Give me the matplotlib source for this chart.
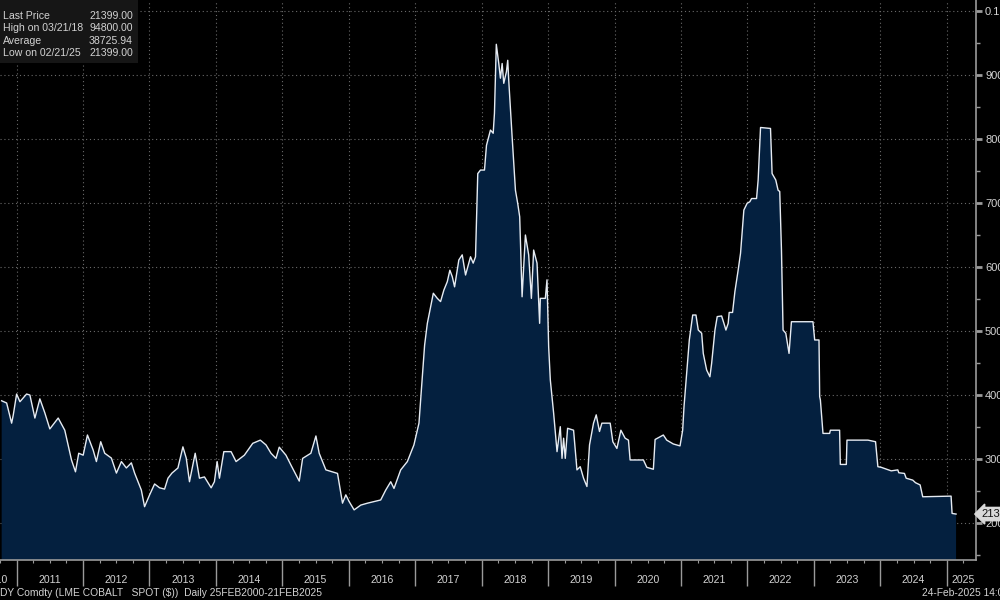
import matplotlib
matplotlib.use("Agg")
import matplotlib.pyplot as plt
import matplotlib.transforms as mtransforms
import numpy as np

# ---- data (decimal year, LME cobalt spot $) ----
years = [
    2010.775, 2010.850, 2010.925, 2010.950, 2011.000, 2011.050, 2011.150, 2011.200, 2011.275, 2011.350,
    2011.425, 2011.500, 2011.626, 2011.725, 2011.826, 2011.886, 2011.935, 2012.002, 2012.066, 2012.152,
    2012.201, 2012.266, 2012.326, 2012.426, 2012.502, 2012.577, 2012.652, 2012.727, 2012.776, 2012.877,
    2012.926, 2013.002, 2013.077, 2013.152, 2013.227, 2013.278, 2013.338, 2013.428, 2013.503, 2013.553,
    2013.602, 2013.688, 2013.752, 2013.827, 2013.928, 2013.977, 2014.018, 2014.053, 2014.119, 2014.228,
    2014.303, 2014.428, 2014.554, 2014.668, 2014.754, 2014.829, 2014.904, 2014.953, 2015.054, 2015.129,
    2015.254, 2015.305, 2015.429, 2015.505, 2015.554, 2015.655, 2015.830, 2015.905, 2015.955, 2016.005,
    2016.080, 2016.180, 2016.281, 2016.480, 2016.556, 2016.631, 2016.680, 2016.781, 2016.881, 2016.980,
    2017.056, 2017.141, 2017.182, 2017.272, 2017.332, 2017.381, 2017.431, 2017.482, 2017.521, 2017.557,
    2017.592, 2017.656, 2017.707, 2017.757, 2017.832, 2017.872, 2017.907, 2017.941, 2017.982, 2018.042,
    2018.072, 2018.132, 2018.173, 2018.192, 2018.220, 2018.257, 2018.282, 2018.308, 2018.332, 2018.372,
    2018.392, 2018.407, 2018.458, 2018.508, 2018.542, 2018.572, 2018.608, 2018.658, 2018.707, 2018.748,
    2018.782, 2018.833, 2018.872, 2018.883, 2018.958, 2018.983, 2019.008, 2019.033, 2019.083, 2019.134,
    2019.183, 2019.209, 2019.233, 2019.258, 2019.293, 2019.383, 2019.434, 2019.483, 2019.533, 2019.584,
    2019.623, 2019.683, 2019.724, 2019.773, 2019.809, 2019.934, 2019.974, 2020.035, 2020.095, 2020.159,
    2020.209, 2020.234, 2020.434, 2020.485, 2020.584, 2020.610, 2020.734, 2020.785, 2020.884, 2020.985,
    2021.025, 2021.045, 2021.086, 2021.125, 2021.176, 2021.225, 2021.260, 2021.311, 2021.335, 2021.386,
    2021.435, 2021.461, 2021.511, 2021.545, 2021.611, 2021.646, 2021.676, 2021.710, 2021.725, 2021.776,
    2021.811, 2021.860, 2021.896, 2021.946, 2021.995, 2022.036, 2022.062, 2022.137, 2022.161, 2022.197,
    2022.347, 2022.371, 2022.426, 2022.461, 2022.486, 2022.512, 2022.536, 2022.577, 2022.626, 2022.662,
    2022.986, 2023.012, 2023.077, 2023.087, 2023.098, 2023.137, 2023.237, 2023.248, 2023.387, 2023.398,
    2023.488, 2023.498, 2023.814, 2023.928, 2023.963, 2024.014, 2024.098, 2024.164, 2024.263, 2024.278,
    2024.363, 2024.389, 2024.488, 2024.529, 2024.599, 2024.638, 2025.014, 2025.065, 2025.080, 2025.140,
]
prices = [
    39100, 38750, 35600, 36900, 40150, 38950, 40150, 40000, 36400, 39400,
    37200, 34700, 36400, 34500, 29850, 28000, 30900, 30600, 33750, 31400,
    29600, 32700, 30900, 30150, 27800, 29600, 28600, 29400, 27800, 25150,
    22550, 24400, 26100, 25500, 25300, 27000, 27800, 28600, 31900, 30150,
    26450, 30900, 27000, 27200, 25500, 26450, 29600, 27000, 31150, 31150,
    29600, 30600, 32450, 32950, 32200, 30900, 30100, 31850, 30600, 29050,
    26550, 30100, 30900, 33600, 30900, 28300, 27750, 23100, 24400, 23350,
    22050, 22800, 23100, 23600, 25150, 26450, 25400, 28300, 29600, 32200,
    35600, 47800, 51200, 55900, 55100, 54600, 56400, 57700, 59500, 58500,
    56900, 61100, 61900, 58750, 61600, 60600, 61600, 74600, 75150, 75150,
    79000, 81400, 80900, 84000, 94800, 91800, 89500, 91800, 88700, 90500,
    92300, 89200, 80350, 72000, 69950, 67850, 55350, 65000, 61900, 55100,
    62650, 60600, 51200, 55100, 55100, 58000, 47550, 42350, 37150, 31150,
    35050, 30100, 33250, 30100, 34800, 34500, 28300, 28800, 27000, 25700,
    32200, 35600, 36900, 34300, 35600, 35600, 32700, 31650, 34500, 33250,
    32950, 29850, 29850, 28700, 28400, 33050, 33750, 32950, 32350, 32050,
    34500, 38150, 43400, 48600, 52500, 52500, 50150, 49650, 46500, 43900,
    42850, 44950, 50150, 52250, 52350, 51200, 50150, 51200, 52900, 52900,
    56150, 59500, 62150, 68900, 69950, 70200, 70700, 70700, 73600, 81800,
    81650, 74600, 73600, 72000, 71800, 62650, 50150, 49650, 46500, 51450,
    51450, 48600, 48600, 39750, 39200, 34000, 34000, 34500, 34500, 29150,
    29150, 32950, 32950, 32700, 28800, 28700, 28400, 28150, 28300, 27850,
    27750, 27000, 26700, 26300, 25950, 24100, 24200, 24200, 21500, 21399,
]

stat_labels = ["Last Price", "High on 03/21/18", "Average", "Low on 02/21/25"]
stat_values = ["21399.00", "94800.00", "38725.94", "21399.00"]
year_labels = list(range(2010, 2026))
y_ticks = [20000, 30000, 40000, 50000, 60000, 70000, 80000, 90000, 100000]
y_tick_labels = ["20000", "30000", "40000", "50000", "60000", "70000", "80000", "90000", "0.1M"]
last_price = 21399.00

# ---- styling ----
BG = "#000000"
FILL = "#04203f"
LINE = "#e6ebf2"
TXT = "#d2d2d2"
GRID = "#6a6a6a"
AXC = "#9a9a9a"
plt.rcParams["font.family"] = ["Liberation Sans", "DejaVu Sans"]

fig = plt.figure(figsize=(10, 6), dpi=100, facecolor=BG)
ax = fig.add_axes([0.0, 40 / 600, 0.976, 560 / 600], facecolor=BG)

ax.fill_between(years, prices, 0, color=FILL, linewidth=0, zorder=2)
ax.plot(years, prices, color=LINE, linewidth=1.0, zorder=3)

ax.set_xlim(2010.775, 2025.44)
ax.set_ylim(14220, 101720)

# grid
for yv in y_ticks:
    ax.axhline(yv, color=GRID, linewidth=0.8, linestyle=(0, (1, 2.5)), zorder=1)
for yr in range(2011, 2026):
    ax.axvline(yr, color=GRID, linewidth=0.8, linestyle=(0, (1, 2.5)), zorder=1)

# spines
for s in ["top", "left"]:
    ax.spines[s].set_visible(False)
ax.spines["right"].set_color(AXC)
ax.spines["bottom"].set_color(AXC)
ax.spines["right"].set_linewidth(1.2)
ax.spines["bottom"].set_linewidth(1.2)

# y axis on the right
ax.yaxis.tick_right()
ax.set_yticks(y_ticks)
ax.set_yticklabels(y_tick_labels)
ax.set_yticks(np.arange(15000, 100001, 10000), minor=True)
ax.tick_params(axis="y", which="major", colors=AXC, labelcolor=TXT, length=4, width=2.0,
               pad=2.5, labelsize=8, direction="out")
ax.tick_params(axis="y", which="minor", colors=AXC, length=3, width=1.0, direction="out")

# x axis: long ticks at year boundaries, short quarterly ticks
ax.set_xticks(list(range(2011, 2026)))
ax.set_xticklabels([])
ax.set_xticks(np.arange(2010.75, 2025.45, 0.25), minor=True)
ax.tick_params(axis="x", which="major", colors=AXC, length=19, width=1.0, direction="out")
ax.tick_params(axis="x", which="minor", colors=AXC, length=2.5, width=0.8, direction="out")

trans = mtransforms.blended_transform_factory(ax.transData, ax.transAxes)
for yr in year_labels:
    if yr == 2010:
        xpos, ha = 2010.865, "right"
    elif yr == 2025:
        xpos, ha = 2025.24, "center"
    else:
        xpos, ha = yr + 0.5, "center"
    ax.text(xpos, -20 / 560, str(yr), transform=trans, ha=ha, va="center",
            color=TXT, fontsize=7.6, clip_on=False)

# price tag on right axis
ax.text(1.006, last_price, "21399.00",
        transform=mtransforms.blended_transform_factory(ax.transAxes, ax.transData),
        ha="left", va="center", color="#111111", fontsize=8, clip_on=False,
        bbox=dict(boxstyle="larrow,pad=0.15", facecolor="#d8d8d8", edgecolor="#d8d8d8"))

# stats box top-left
fig.patches.append(plt.Rectangle((0, 1 - 63 / 600), 138 / 1000, 63 / 600, transform=fig.transFigure,
                                 facecolor="#161616", edgecolor="none", zorder=5))
for i, (lab, val) in enumerate(zip(stat_labels, stat_values)):
    yy = 1 - (16 + i * 12.4) / 600
    fig.text(3 / 1000, yy, lab, color=TXT, fontsize=7.6, ha="left", va="center", zorder=6)
    fig.text(133 / 1000, yy, val, color=TXT, fontsize=7.6, ha="right", va="center", zorder=6)

# footer
fig.text(0.0, 7 / 600, "DY Comdty (LME COBALT   SPOT ($))  Daily 25FEB2000-21FEB2025",
         color=TXT, fontsize=7.4, ha="left", va="center")
fig.text(922 / 1000, 7 / 600, "24-Feb-2025 14:00", color=TXT, fontsize=7.4, ha="left", va="center")

fig.savefig("out.png", dpi=100, facecolor=BG)
